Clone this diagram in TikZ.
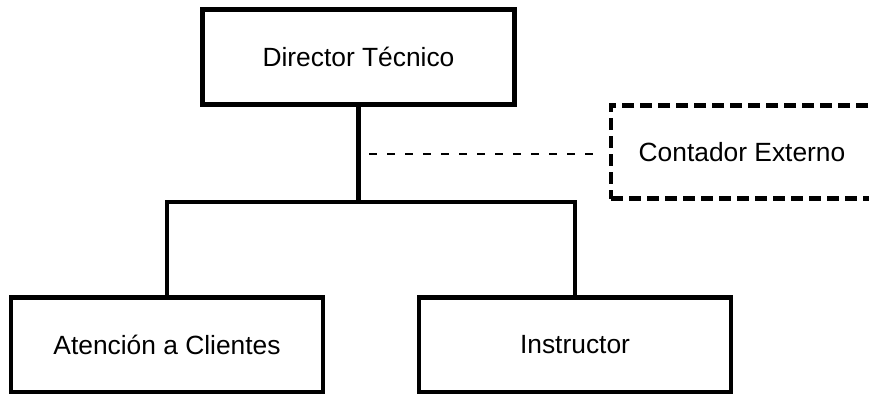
\documentclass[tikz,border=0pt]{standalone}
\usepackage{fontspec}
\setmainfont{Liberation Sans}
\begin{document}
\begin{tikzpicture}[x=0.03cm, y=-0.03cm,
		cargo/.style={draw, line width=3.8pt, minimum width=9.35cm, minimum height=2.85cm, inner sep=0pt, font=\fontsize{22.5}{27}\selectfont},
		externo/.style={cargo, line width=3.8pt, minimum width=7.86cm, minimum height=2.79cm, dash pattern=on 0.36cm off 0.18cm},
		enlace/.style={line width=3.8pt},
		enlacedash/.style={line width=2.2pt, dash pattern=on 0.25cm off 0.29cm}]
		\useasboundingbox (0,0) rectangle (869,394);
		
		\node [cargo] (director) at (358.5, 57) {Director Técnico};
		\node [cargo] (atencion) at (167, 345) {Atención a Clientes};
		\node [cargo] (instructor) at (575, 345) {Instructor};
		\node [externo] (contador) at (742, 152) {Contador Externo};
		
		\coordinate (union) at (358.5, 202);
		\coordinate (derivacion) at (369, 154);
		
		\draw [enlace] (director.south) -- (union);
		\draw [enlace] (atencion.north) |- (union) -| (instructor.north);
		\draw [enlacedash, shorten >=0.24cm] (derivacion) -- (derivacion -| contador.west); %dashed link
	\end{tikzpicture}
\end{document}
